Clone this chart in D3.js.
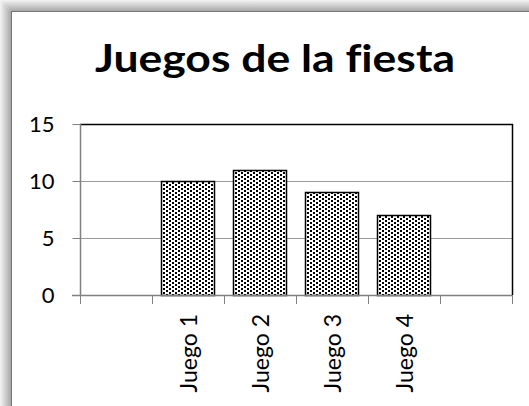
<!DOCTYPE html>
<html><head><meta charset="utf-8">
<script src="https://cdn.jsdelivr.net/npm/d3@7"></script>
<style>html,body{margin:0;padding:0;background:#fff;overflow:hidden} text{font-variant-ligatures:none;font-feature-settings:"liga" 0}</style>
</head><body>
<script>
const title = "Juegos de la fiesta";
const categories = ["", "Juego 1", "Juego 2", "Juego 3", "Juego 4", " "];
const values = [null, 10, 11, 9, 7, null];
const yTicks = [0, 5, 10, 15];

(function(){
const W = 529, H = 406;
const svg = d3.select("body").append("svg").attr("width", W).attr("height", H);
const defs = svg.append("defs");

const gl = defs.append("linearGradient").attr("id","gl").attr("x1","0").attr("x2","1").attr("y1","0").attr("y2","0");
gl.append("stop").attr("offset","0").attr("stop-color","#f4f4f4");
gl.append("stop").attr("offset","1").attr("stop-color","#a8a8a8");
const gt = defs.append("linearGradient").attr("id","gt").attr("x1","0").attr("x2","0").attr("y1","0").attr("y2","1");
gt.append("stop").attr("offset","0").attr("stop-color","#f4f4f4");
gt.append("stop").attr("offset","1").attr("stop-color","#a8a8a8");

const pat = defs.append("pattern").attr("id","dots").attr("patternUnits","userSpaceOnUse")
  .attr("width",6).attr("height",4);
pat.append("rect").attr("width",6).attr("height",4).attr("fill","#fff");
pat.append("rect").attr("x",1).attr("y",0).attr("width",2).attr("height",2).attr("fill","#000");
pat.append("rect").attr("x",4).attr("y",2).attr("width",2).attr("height",2).attr("fill","#000");

const F = 11;
svg.append("polygon").attr("points",`0,0 ${F},${F} ${F},${H} 0,${H}`).attr("fill","url(#gl)");
svg.append("polygon").attr("points",`0,0 ${W},0 ${W},${F} ${F},${F}`).attr("fill","url(#gt)");
svg.append("line").attr("x1",F+0.5).attr("x2",F+0.5).attr("y1",F).attr("y2",H).attr("stroke","#777");
svg.append("line").attr("x1",F).attr("x2",W).attr("y1",F+0.5).attr("y2",F+0.5).attr("stroke","#777");

const font = "Lato, 'Liberation Sans', sans-serif";

const t = svg.append("text").text(title)
  .attr("x", 275).attr("y", 72).attr("text-anchor","middle")
  .attr("font-family", font).attr("font-weight","bold")
  .attr("font-size", 38).attr("fill","#000");
t.attr("textLength", 360).attr("lengthAdjust","spacingAndGlyphs");

const pl = 80, pr = 512, pt = 124, pb = 295;
const y = d3.scaleLinear().domain([0,15]).range([pb, pt]);
const x = d3.scaleBand().domain(categories).range([pl, pr]).paddingInner(0.25).paddingOuter(0.125);
const xs = d3.scaleBand().domain(categories).range([pl, pr]).padding(0);

svg.append("g").selectAll("line").data(yTicks.filter(d => d>0 && d<15)).join("line")
  .attr("x1", pl).attr("x2", pr)
  .attr("y1", d => Math.round(y(d))+0.5).attr("y2", d => Math.round(y(d))+0.5)
  .attr("stroke","#9a9a9a").attr("stroke-width",1);

svg.append("line").attr("x1",pl).attr("x2",pr+1).attr("y1",Math.round(y(15))+0.5).attr("y2",Math.round(y(15))+0.5).attr("stroke","#000").attr("stroke-width",1.5);
svg.append("line").attr("x1",pr+0.5).attr("x2",pr+0.5).attr("y1",pt).attr("y2",pb).attr("stroke","#000").attr("stroke-width",1.5);

svg.append("g").selectAll("rect").data(categories.map((c,i)=>({c, v: values[i]})).filter(d=>d.v!=null)).join("rect")
  .attr("x", d => Math.round(x(d.c))+0.5)
  .attr("y", d => Math.round(y(d.v))+0.5)
  .attr("width", x.bandwidth()-1)
  .attr("height", d => Math.round(y(0)) - Math.round(y(d.v)))
  .attr("fill","url(#dots)").attr("stroke","#000").attr("stroke-width",1.5);

const yAxis = d3.axisLeft(y).tickValues(yTicks).tickSize(8).tickPadding(18);
const gy = svg.append("g").attr("transform",`translate(${pl+0.5},0)`).call(yAxis);
gy.select(".domain").attr("stroke","#808080").attr("stroke-width",1.5).attr("d",`M0,${pt}V${pb}`);
gy.selectAll(".tick line").attr("stroke","#808080");
gy.selectAll(".tick text").attr("font-family",font).attr("font-size",22).attr("fill","#000");

const gx = svg.append("g");
gx.append("line").attr("x1",pl-8).attr("x2",pr).attr("y1",pb+0.5).attr("y2",pb+0.5).attr("stroke","#808080").attr("stroke-width",1.5);
const bounds = categories.map(c => xs(c)).concat([pr]);
gx.selectAll("line.tk").data(bounds).join("line").attr("class","tk")
  .attr("x1", d => Math.round(d)+0.5).attr("x2", d => Math.round(d)+0.5)
  .attr("y1", pb).attr("y2", pb+9).attr("stroke","#808080");
gx.selectAll("text").data(categories.filter(c => c.trim()!=="")).join("text")
  .attr("transform", c => `translate(${xs(c)+xs.bandwidth()/2+9},${pb+19}) rotate(-90)`)
  .attr("text-anchor","end")
  .attr("font-family",font).attr("font-size",23).attr("fill","#000")
  .text(c => c);
})();
</script>
</body></html>
